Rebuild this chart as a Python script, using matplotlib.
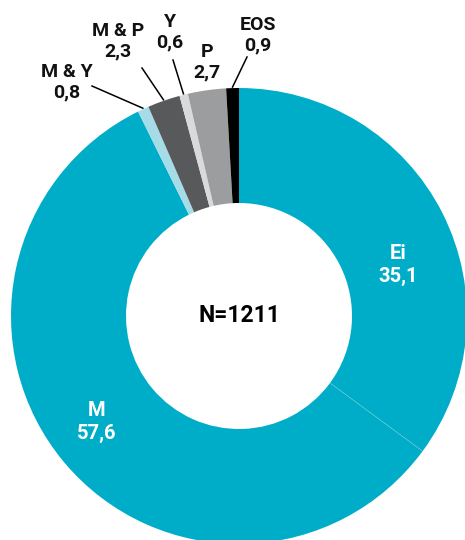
import matplotlib.pyplot as plt
import numpy as np

labels = ["Ei", "M", "M & Y", "M & P", "Y", "P", "EOS"]
values = [35.1, 57.6, 0.8, 2.3, 0.6, 2.7, 0.9]
value_text = ["35,1", "57,6", "0,8", "2,3", "0,6", "2,7", "0,9"]
colors = ["#00adc8", "#00adc8", "#a5dce8", "#58595b", "#d9dadb", "#9c9d9f", "#000000"]
total_n = 1211

W, H = 465, 540
cx, cy = 239, H - 316   # centre in pixel space (y up)
r_out, r_in = 228, 113

plt.rcParams['font.family'] = ['Roboto', 'DejaVu Sans']

fig = plt.figure(figsize=(W / 100, H / 100), dpi=100)
ax = fig.add_axes([0, 0, 1, 1])

wedges, _ = ax.pie(values, colors=colors, startangle=90, counterclock=False,
                   center=(cx, cy), radius=r_out,
                   wedgeprops=dict(width=r_out - r_in, linewidth=0))
ax.set_xlim(0, W)
ax.set_ylim(0, H)
ax.set_aspect('equal')
ax.axis('off')

# faint boundary between Ei and M
a = np.radians(wedges[0].theta1)
ax.plot([cx + r_in * np.cos(a), cx + r_out * np.cos(a)],
        [cy + r_in * np.sin(a), cy + r_out * np.sin(a)],
        color='#6fcadb', lw=0.4)

ax.text(cx, cy, f"N={total_n}", ha='center', va='center', fontsize=16.5,
        fontweight='bold', color='black')

# inside labels (pixel positions from top of image)
in_pos = {0: (398, 265), 1: (97, 422)}
for i, (tx, ty) in in_pos.items():
    ax.text(tx, H - ty, f"{labels[i]}\n{value_text[i]}", ha='center', va='center',
            fontsize=14.5, fontweight='bold', color='white', linespacing=1.2)


def mid_angle(w):
    return np.radians((w.theta1 + w.theta2) / 2)


# outside labels
out_pos = {2: (67, 82), 3: (118, 41), 4: (170, 32), 5: (207, 62), 6: (258, 35)}
line_end = {2: (92, 86), 3: (142, 68), 4: (173, 60), 6: (247, 57)}
for i, (tx, ty) in out_pos.items():
    ax.text(tx, H - ty, f"{labels[i]}\n{value_text[i]}", ha='center', va='center',
            fontsize=14, fontweight='bold', color='#111111', linespacing=1.15)
    if i in line_end:
        a = mid_angle(wedges[i])
        x0 = cx + (r_out + 1) * np.cos(a)
        y0 = cy + (r_out + 1) * np.sin(a)
        ex, ey = line_end[i]
        ax.plot([x0, ex], [y0, H - ey], color='black', lw=1.1)

fig.savefig("out.png", dpi=100)
